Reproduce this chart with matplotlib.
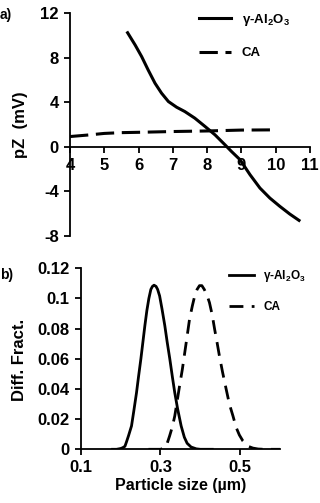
import matplotlib
matplotlib.use("Agg")
import matplotlib.pyplot as plt

plt.rcParams['font.family'] = ['Liberation Sans', 'DejaVu Sans']
plt.rcParams['font.weight'] = 'bold'
plt.rcParams['axes.unicode_minus'] = False
plt.rcParams['mathtext.default'] = 'regular'

# a) zeta potential vs pH
ph_al2o3 = [5.68, 5.90, 6.09, 6.28, 6.48, 6.67, 6.87, 7.11, 7.35, 7.64, 7.94, 8.23,
            8.52, 8.71, 8.96, 9.25, 9.54, 9.83, 10.12, 10.41, 10.68]
pz_al2o3 = [10.23, 9.13, 8.09, 6.89, 5.70, 4.81, 4.06, 3.55, 3.16, 2.57, 1.82, 1.07,
            0.18, -0.42, -1.16, -2.5, -3.7, -4.6, -5.34, -6.03, -6.6]
ph_ca = [4.0, 4.5, 5.0, 5.5, 6.0, 7.0, 8.0, 9.0, 10.0]
pz_ca = [0.92, 1.05, 1.2, 1.27, 1.3, 1.37, 1.42, 1.5, 1.52]
ph_ticks = [4, 5, 6, 7, 8, 9, 10, 11]
pz_ticks = [-8, -4, 0, 4, 8, 12]

# b) particle size distributions
size_al2o3 = [0.18, 0.19, 0.20, 0.205, 0.211, 0.215, 0.22, 0.2275, 0.233, 0.24, 0.245,
              0.251, 0.256, 0.261, 0.266, 0.271, 0.276, 0.28, 0.284, 0.289, 0.293,
              0.298, 0.304, 0.311, 0.317, 0.3235, 0.33, 0.336, 0.343, 0.352, 0.36,
              0.367, 0.377, 0.39, 0.40, 0.43]
frac_al2o3 = [0.0, 0.0, 0.0005, 0.001, 0.002, 0.005, 0.009, 0.0155, 0.025, 0.0375, 0.048,
              0.06, 0.071, 0.082, 0.092, 0.100, 0.106, 0.108, 0.1088, 0.108, 0.106,
              0.1017, 0.093, 0.082, 0.071, 0.06, 0.048, 0.0375, 0.027, 0.0155, 0.008,
              0.004, 0.0015, 0.0003, 0.0, 0.0]
size_ca = [0.27, 0.30, 0.31, 0.317, 0.323, 0.33, 0.336, 0.342, 0.348, 0.355, 0.361,
           0.367, 0.373, 0.38, 0.386, 0.392, 0.398, 0.404, 0.41, 0.417, 0.423, 0.43,
           0.436, 0.442, 0.448, 0.456, 0.465, 0.473, 0.482, 0.49, 0.498, 0.507, 0.52,
           0.532, 0.545, 0.56, 0.60]
frac_ca = [0.0, 0.0, 0.0008, 0.004, 0.0088, 0.015, 0.0221, 0.032, 0.042, 0.053, 0.064,
           0.075, 0.0862, 0.095, 0.1017, 0.106, 0.1085, 0.1085, 0.106, 0.102, 0.0973,
           0.089, 0.0796, 0.071, 0.0619, 0.051, 0.0398, 0.030, 0.0221, 0.0145, 0.0095,
           0.0055, 0.002, 0.0008, 0.0002, 0.0, 0.0]
size_ticks = [0.1, 0.3, 0.5]
frac_ticks = [0, 0.02, 0.04, 0.06, 0.08, 0.1, 0.12]
frac_labels = ["0", "0.02", "0.04", "0.06", "0.08", "0.1", "0.12"]

fig = plt.figure(figsize=(3.2, 5.03), dpi=100)

# ---- panel a ----
ax = fig.add_axes([70 / 320, 1 - 236 / 503, 240 / 320, 223 / 503])
ax.plot(ph_al2o3, pz_al2o3, color="black", lw=2.2, label="γ-Al$_2$O$_3$")
ax.plot(ph_ca, pz_ca, color="black", lw=2.2, dashes=(6, 2.5), label="CA")
ax.set_xlim(4, 11)
ax.set_ylim(-8, 12)
ax.set_xticks(ph_ticks)
ax.set_yticks(pz_ticks)
ax.spines['top'].set_visible(False)
ax.spines['right'].set_visible(False)
ax.spines['bottom'].set_position(('data', 0))
for s in ax.spines.values():
    s.set_linewidth(1.3)
ax.tick_params(direction="out", length=4, width=1.3, labelsize=12, pad=4)
ax.text(177, 222, "pH", transform=None, fontsize=12, fontweight="bold",
        ha="center", va="center")
fig.text(20 / 320, 1 - 125 / 503, "pZ  (mV)", rotation=90, fontsize=12,
         fontweight="bold", ha="center", va="center")
fig.text(0, 1 - 15 / 503, "a)", fontsize=10, fontweight="bold", va="center")
ax.legend(loc="upper left", bbox_to_anchor=(199 / 320, 1 - 12 / 503),
          bbox_transform=fig.transFigure, frameon=False,
          prop={"size": 9.5, "weight": "bold"}, handlelength=2.4,
          handletextpad=0.85, labelspacing=1.45, borderpad=0, borderaxespad=0)

# ---- panel b ----
bx = fig.add_axes([80.7 / 320, 1 - 449.3 / 503, 199.3 / 320, 181 / 503])
bx.plot(size_al2o3, frac_al2o3, color="black", lw=2.0, label="γ-Al$_2$O$_3$")
bx.plot(size_ca, frac_ca, color="black", lw=2.0, dashes=(5, 3), label="CA")
bx.set_xlim(0.1, 0.6)
bx.set_ylim(0, 0.12)
bx.set_xticks(size_ticks)
bx.set_xticklabels([str(v) for v in size_ticks])
bx.set_yticks(frac_ticks)
bx.set_yticklabels(frac_labels)
bx.spines['top'].set_visible(False)
bx.spines['right'].set_visible(False)
for s in bx.spines.values():
    s.set_linewidth(1.3)
bx.tick_params(direction="out", length=4, width=1.3, labelsize=12, pad=4)
bx.set_xlabel("Particle size (µm)", fontsize=11.5, fontweight="bold", labelpad=2)
fig.text(20 / 320, 1 - 360 / 503, "Diff. Fract.", rotation=90, fontsize=12,
         fontweight="bold", ha="center", va="center")
fig.text(0, 1 - 275 / 503, "b)", fontsize=10, fontweight="bold", va="center")
bx.legend(loc="upper left", bbox_to_anchor=(229 / 320, 1 - 268 / 503),
          bbox_transform=fig.transFigure, frameon=False,
          prop={"size": 8.5, "weight": "bold"}, handlelength=2.1,
          handletextpad=0.8, labelspacing=1.45, borderpad=0, borderaxespad=0)

fig.savefig("out.png", dpi=100)
